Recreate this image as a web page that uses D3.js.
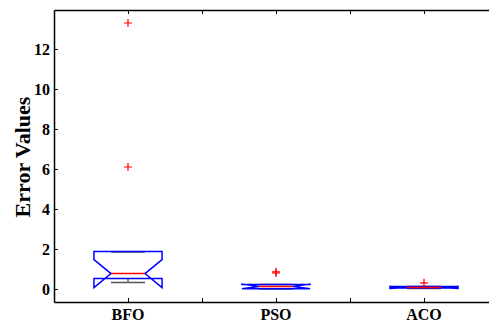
<!DOCTYPE html>
<html>
<head>
<meta charset="utf-8">
<script src="https://cdn.jsdelivr.net/npm/d3@7"></script>
<style>
  body { margin: 0; background: #fff; }
  text { font-family: "Liberation Serif", "Times New Roman", serif; font-weight: bold; }
</style>
</head>
<body>
<div id="chart"></div>
<script>
const categories = ['BFO', 'PSO', 'ACO'];
const q1 = [0.52, 0.01, 0.05];
const medians = [0.77, 0.13, 0.08];
const q3 = [1.87, 0.22, 0.12];
const whiskerLow = [0.32, 0.0, 0.02];
const whiskerHigh = [1.85, 0.22, 0.12];
const notchHalf = [0.70, 0.12, 0.05];
const outliers = [[13.3, 6.1], [0.8, 0.86], [0.31]];
const yTicks = [0, 2, 4, 6, 8, 10, 12];

const width = 489, height = 325;
const margin = { left: 54, top: 10, bottom: 302 };

const svg = d3.select('#chart').append('svg').attr('width', width).attr('height', height);

const x = d3.scaleLinear().domain([0.5, 3.5]).range([margin.left, 498]);
const y = d3.scaleLinear().domain([-0.65, 13.95]).range([margin.bottom, margin.top]);
const boxHalf = 0.23, notchW = 0.115, capHalf = 0.115;

// axes (MATLAB style, ticks inward)
svg.append('g').attr('transform', `translate(0,${margin.bottom})`)
  .call(d3.axisBottom(x).tickValues([1, 1.5, 2, 2.5, 3]).tickFormat('').tickSizeInner(-4).tickSizeOuter(0));
svg.append('g').attr('transform', `translate(0,${margin.top})`)
  .call(d3.axisTop(x).tickValues([1, 1.5, 2, 2.5, 3]).tickFormat('').tickSizeInner(-4).tickSizeOuter(0));
svg.append('g').attr('transform', `translate(${margin.left},0)`)
  .call(d3.axisLeft(y).tickValues(yTicks).tickSizeInner(-4).tickSizeOuter(0).tickPadding(4));
svg.selectAll('.domain').attr('stroke', '#000').attr('stroke-width', 1.5);
svg.selectAll('.tick line').attr('stroke', '#000');
svg.selectAll('.tick text').attr('font-size', 16).attr('fill', '#000')
  .style('font-family', '"Liberation Serif", serif').style('font-weight', 'bold');

// category labels
svg.append('g').selectAll('text').data(categories).enter().append('text')
  .attr('x', (d, i) => x(i + 1)).attr('y', 320).attr('text-anchor', 'middle')
  .attr('font-size', 16).text(d => d);

svg.append('text').attr('transform', `translate(30,157) rotate(-90)`)
  .attr('text-anchor', 'middle').attr('font-size', 22).text('Error Values');

const plot = svg.append('g');
categories.forEach((c, i) => {
  const cx = i + 1;
  const L = cx - boxHalf, R = cx + boxHalf;
  // whiskers
  plot.append('line').attr('x1', x(cx)).attr('x2', x(cx)).attr('y1', y(q3[i])).attr('y2', y(whiskerHigh[i]))
    .attr('stroke', '#000').attr('stroke-dasharray', '3,2');
  plot.append('line').attr('x1', x(cx)).attr('x2', x(cx)).attr('y1', y(q1[i])).attr('y2', y(whiskerLow[i]))
    .attr('stroke', '#000').attr('stroke-dasharray', '3,2');
  [whiskerLow[i], whiskerHigh[i]].forEach(v => {
    plot.append('line').attr('x1', x(cx - capHalf)).attr('x2', x(cx + capHalf)).attr('y1', y(v)).attr('y2', y(v))
      .attr('stroke', '#555').attr('stroke-width', 1.5);
  });
  // notched box
  const nLo = medians[i] - notchHalf[i], nHi = medians[i] + notchHalf[i];
  const pts = [[L, q3[i]], [R, q3[i]], [R, nHi], [cx + notchW, medians[i]], [R, nLo], [R, q1[i]],
    [L, q1[i]], [L, nLo], [cx - notchW, medians[i]], [L, nHi]];
  plot.append('path').attr('d', d3.line().x(d => x(d[0])).y(d => y(d[1])).curve(d3.curveLinearClosed)(pts))
    .attr('fill', 'none').attr('stroke', '#0000ff').attr('stroke-width', 1.5);
  plot.append('line').attr('x1', x(cx - notchW)).attr('x2', x(cx + notchW))
    .attr('y1', y(medians[i])).attr('y2', y(medians[i])).attr('stroke', '#ff0000').attr('stroke-width', 1.5);
  // outliers
  outliers[i].forEach(v => {
    plot.append('path').attr('d', `M${x(cx) - 4},${y(v)}h8M${x(cx)},${y(v) - 4}v8`)
      .attr('stroke', '#ff0000').attr('stroke-width', 1.2);
  });
});
</script>
</body>
</html>
